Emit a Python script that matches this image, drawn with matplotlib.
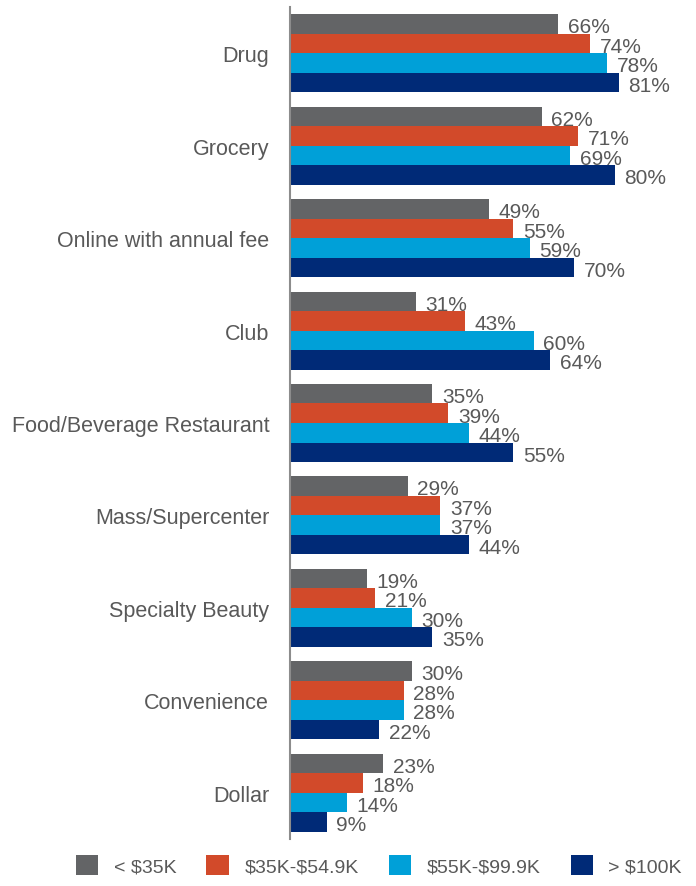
import matplotlib.pyplot as plt
import matplotlib.patches as patches
import numpy as np

plt.rcParams['font.family'] = ['Liberation Sans', 'DejaVu Sans']
plt.rcParams['text.parse_math'] = False

# Canais de compra e percentual por faixa de renda
canais = ['Drug', 'Grocery', 'Online with annual fee', 'Club',
          'Food/Beverage Restaurant', 'Mass/Supercenter', 'Specialty Beauty',
          'Convenience', 'Dollar']
faixas = ['< $35K', '$35K-$54.9K', '$55K-$99.9K', '> $100K']
renda_ate_35k = [66, 62, 49, 31, 35, 29, 19, 30, 23]
renda_35k_55k = [74, 71, 55, 43, 39, 37, 21, 28, 18]
renda_55k_100k = [78, 69, 59, 60, 44, 37, 30, 28, 14]
renda_acima_100k = [81, 80, 70, 64, 55, 44, 35, 22, 9]

series = [renda_ate_35k, renda_35k_55k, renda_55k_100k, renda_acima_100k]
cores = ['#636466', '#D24A2A', '#00A0D8', '#002A77']
cor_texto = '#595959'

fig = plt.figure(figsize=(6.96, 8.87), dpi=100)
ax = fig.add_axes([290 / 696, 47 / 887, 406 / 696, 832 / 887])

altura = 0.211
y = np.arange(len(canais))
for i, (valores, cor) in enumerate(zip(series, cores)):
    pos = y + (i - 1.5) * altura
    ax.barh(pos, valores, height=altura, color=cor, edgecolor='none')
    for v, p in zip(valores, pos):
        ax.annotate(f'{v}%', (v, p), xytext=(7, -2), textcoords='offset points',
                    ha='left', va='center', fontsize=15, color=cor_texto)

ax.set_xlim(0, 100)
ax.set_ylim(len(canais) - 0.5, -0.5)
ax.set_xticks([])
ax.set_yticks(y)
ax.set_yticklabels(canais, fontsize=15.5, color=cor_texto)
ax.tick_params(axis='y', length=0, pad=15)
for lado in ['top', 'right', 'bottom']:
    ax.spines[lado].set_visible(False)
ax.spines['left'].set_color('#8c8c8c')
ax.spines['left'].set_linewidth(1.5)

# Legenda na parte inferior
handles = [patches.Patch(facecolor=c, edgecolor='none') for c in cores]
fig.legend(handles, faixas, loc='lower right', bbox_to_anchor=(1.005, -0.008),
           ncol=4, frameon=False, fontsize=14, handlelength=1.15,
           handleheight=1.15, handletextpad=0.8, columnspacing=1.55,
           labelcolor=cor_texto)

plt.savefig('out.png', dpi=100)
